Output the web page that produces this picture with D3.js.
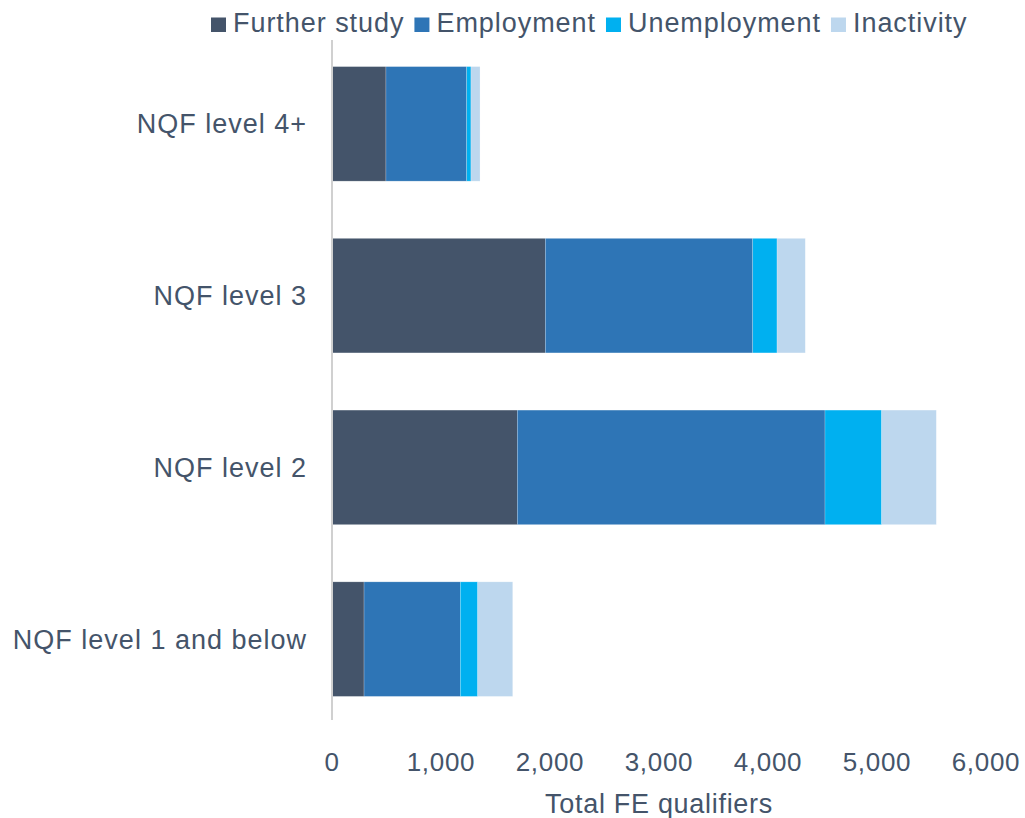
<!DOCTYPE html>
<html>
<head>
<meta charset="utf-8">
<script src="https://cdn.jsdelivr.net/npm/d3@7"></script>
<style>
  body { margin: 0; background: #fff; }
  text { font-family: "Liberation Sans", Arial, sans-serif; fill: #44546a; }
</style>
</head>
<body>
<div id="chart"></div>
<script>
const categories = ["NQF level 4+", "NQF level 3", "NQF level 2", "NQF level 1 and below"];
const seriesNames = ["Further study", "Employment", "Unemployment", "Inactivity"];
const furtherStudy = [495, 1957, 1700, 294];
const employment = [741, 1903, 2823, 883];
const unemployment = [39, 223, 520, 160];
const inactivity = [83, 259, 501, 321];
const xTicks = [0, 1000, 2000, 3000, 4000, 5000, 6000];
const colors = ["#44546a", "#2e75b6", "#00b0f0", "#bdd7ee"];

const width = 1025, height = 818;
const margin = {left: 332, right: 39, top: 38, bottom: 93};

const rows = categories.map((c, i) => ({
    cat: c,
    "Further study": furtherStudy[i],
    "Employment": employment[i],
    "Unemployment": unemployment[i],
    "Inactivity": inactivity[i]
}));

const stacked = d3.stack().keys(seriesNames)(rows);

const svg = d3.select("#chart")
    .append("svg")
    .attr("width", width)
    .attr("height", height);

const x = d3.scaleLinear()
    .domain([0, 6000])
    .range([margin.left, width - margin.right]);

const y = d3.scaleBand()
    .domain(categories)
    .range([margin.top, height - margin.bottom])
    .paddingInner(0.333)
    .paddingOuter(0.1665);

const color = d3.scaleOrdinal().domain(seriesNames).range(colors);

// bars
svg.append("g")
    .selectAll("g")
    .data(stacked)
    .join("g")
    .attr("fill", d => color(d.key))
    .selectAll("rect")
    .data(d => d)
    .join("rect")
    .attr("x", d => x(d[0]))
    .attr("y", d => y(d.data.cat))
    .attr("width", d => x(d[1]) - x(d[0]))
    .attr("height", y.bandwidth())
    .attr("stroke", "#ffffff")
    .attr("stroke-opacity", 0.35)
    .attr("stroke-width", 0.6);

// vertical axis line
svg.append("line")
    .attr("x1", x(0)).attr("x2", x(0))
    .attr("y1", margin.top + 2).attr("y2", height - margin.bottom - 5)
    .attr("stroke", "#d0d0d0")
    .attr("stroke-width", 2);

// category labels
svg.append("g")
    .selectAll("text")
    .data(categories)
    .join("text")
    .attr("x", 307)
    .attr("y", d => y(d) + y.bandwidth() / 2)
    .attr("dy", "0.35em")
    .attr("text-anchor", "end")
    .style("font-size", "27px")
    .style("letter-spacing", "1px")
    .text(d => d);

// x tick labels
const fmt = d3.format(",");
svg.append("g")
    .selectAll("text")
    .data(xTicks)
    .join("text")
    .attr("x", d => x(d))
    .attr("y", 771)
    .attr("text-anchor", "middle")
    .style("font-size", "26px")
    .style("letter-spacing", "0.7px")
    .text(d => fmt(d));

// axis title
svg.append("text")
    .attr("x", (x(0) + x(6000)) / 2)
    .attr("y", 813)
    .attr("text-anchor", "middle")
    .style("font-size", "27px")
    .style("letter-spacing", "0.7px")
    .text("Total FE qualifiers");

// legend
const legend = svg.append("g");
let lx = 211;
seriesNames.forEach((name, i) => {
    legend.append("rect")
        .attr("x", lx)
        .attr("y", 17.5)
        .attr("width", 15)
        .attr("height", 14.5)
        .attr("fill", colors[i]);
    const t = legend.append("text")
        .attr("x", lx + 22)
        .attr("y", 32)
        .style("font-size", "27px")
        .style("letter-spacing", "0.95px")
        .text(name);
    lx += 22 + t.node().getComputedTextLength() + 10;
});
</script>
</body>
</html>
